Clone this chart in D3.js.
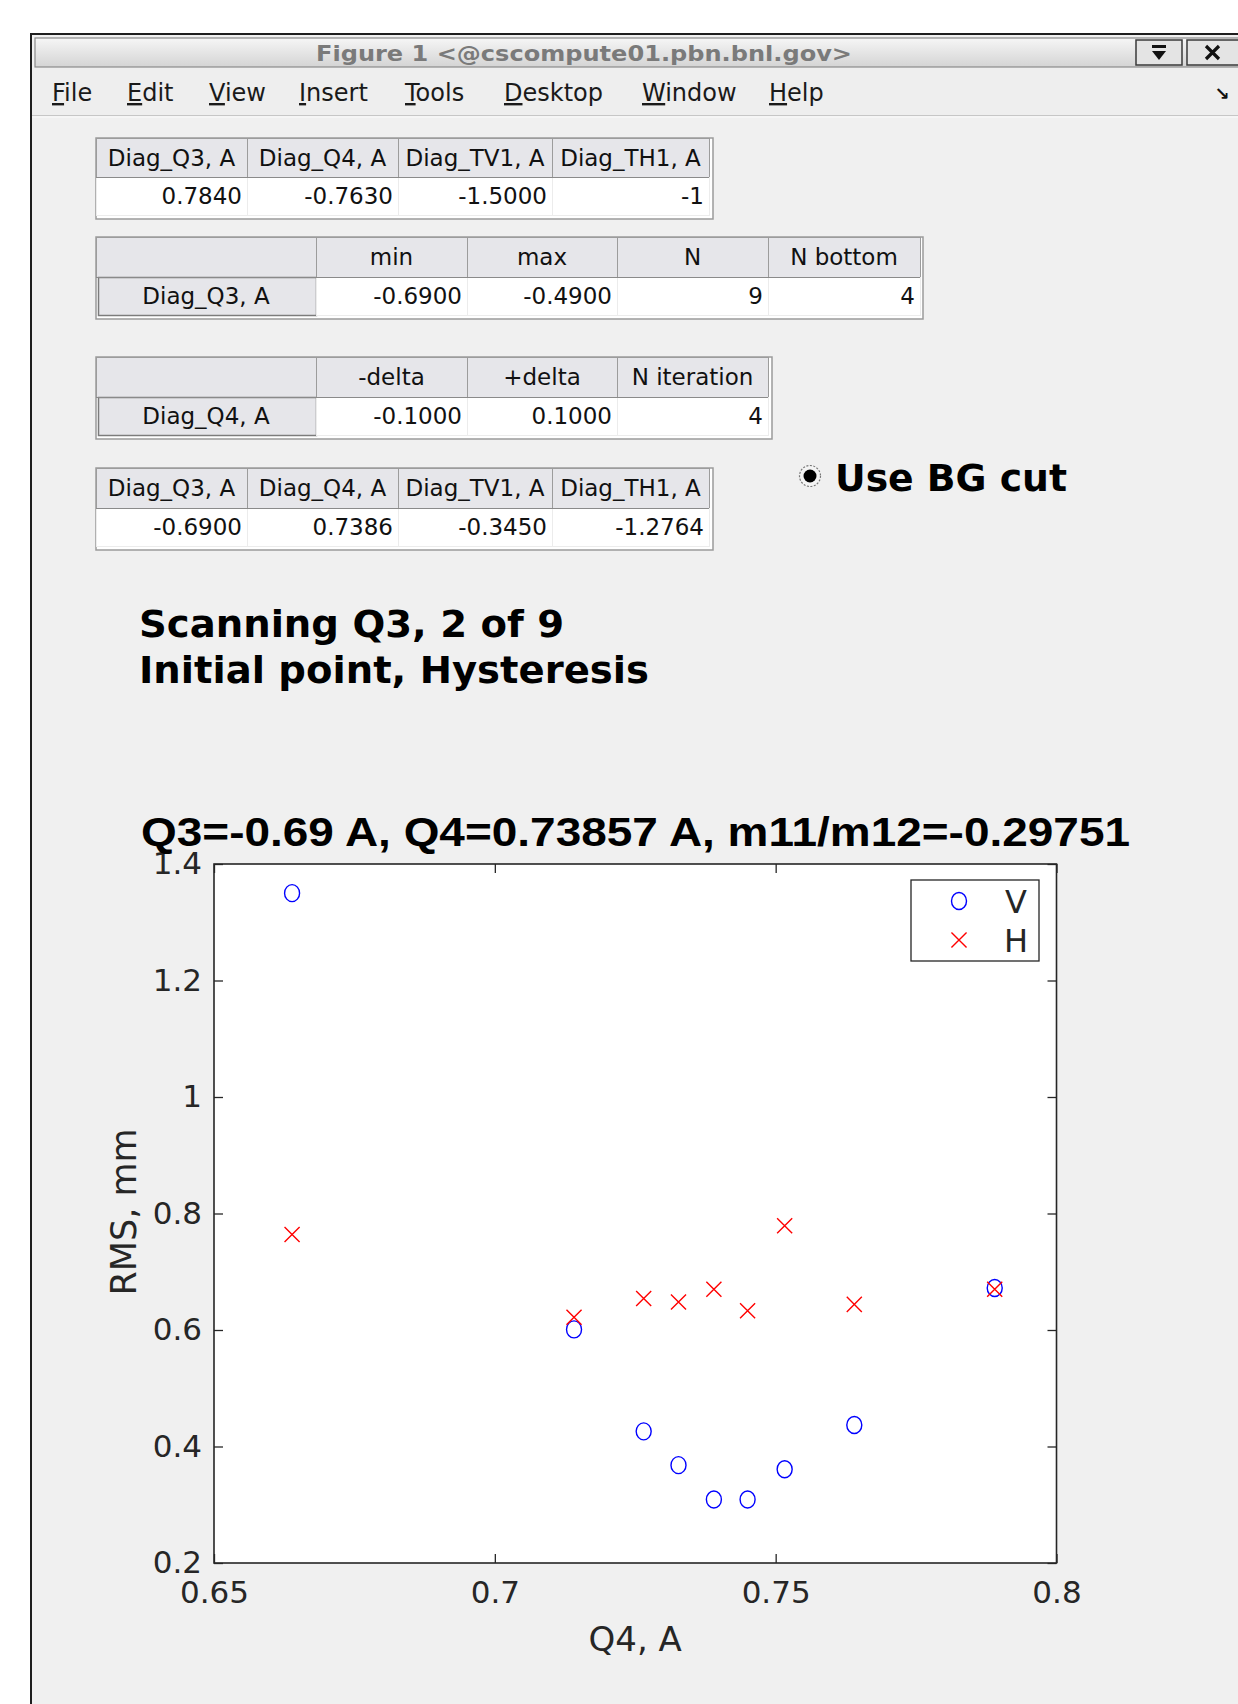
<!DOCTYPE html>
<html><head><meta charset="utf-8">
<script src="https://cdn.jsdelivr.net/npm/d3@7"></script>
<style>body{margin:0;background:#fff;} svg{display:block}</style>
</head><body><svg id="c" width="1238" height="1704"></svg>
<script>
// ---------- DATA ----------
const windowTitle = "Figure 1 <@cscompute01.pbn.bnl.gov>";
const menuItems = ["File","Edit","View","Insert","Tools","Desktop","Window","Help"];

const table1Headers = ["Diag_Q3, A","Diag_Q4, A","Diag_TV1, A","Diag_TH1, A"];
const table1Values  = ["0.7840","-0.7630","-1.5000","-1"];
const table2Headers = ["","min","max","N","N bottom"];
const table2Values  = ["Diag_Q3, A","-0.6900","-0.4900","9","4"];
const table3Headers = ["","-delta","+delta","N iteration"];
const table3Values  = ["Diag_Q4, A","-0.1000","0.1000","4"];
const table4Headers = ["Diag_Q3, A","Diag_Q4, A","Diag_TV1, A","Diag_TH1, A"];
const table4Values  = ["-0.6900","0.7386","-0.3450","-1.2764"];

const radioLabel = "Use BG cut";
const titleLines = ["Scanning Q3, 2 of 9","Initial point, Hysteresis"];
const chartTitle = "Q3=-0.69 A, Q4=0.73857 A, m11/m12=-0.29751";

const q4   = [0.6639, 0.7141, 0.7265, 0.7327, 0.7390, 0.7450, 0.7516, 0.7640, 0.7890];
const rmsV = [1.350, 0.601, 0.426, 0.368, 0.309, 0.309, 0.361, 0.437, 0.672];
const rmsH = [0.764, 0.622, 0.654, 0.648, 0.670, 0.633, 0.779, 0.644, 0.670];
const seriesNames = ["V","H"];
const xTicks = [0.65, 0.7, 0.75, 0.8];
const yTicks = [0.2, 0.4, 0.6, 0.8, 1, 1.2, 1.4];
const xLabel = "Q4, A";
const yLabel = "RMS, mm";

// ---------- DRAW ----------
const W = 1238, H = 1704;
const svg = d3.select("#c");
const defs = svg.append("defs");
const tb = defs.append("linearGradient").attr("id","tb").attr("x1",0).attr("y1",0).attr("x2",0).attr("y2",1);
tb.append("stop").attr("offset","0").attr("stop-color","#f6f6f6");
tb.append("stop").attr("offset","1").attr("stop-color","#d4d4d4");

// window body
svg.append("rect").attr("x",31).attr("y",34).attr("width",W).attr("height",H)
  .attr("fill","#f0f0f0").attr("stroke","#1e1e1e").attr("stroke-width",2);
// title bar
svg.append("rect").attr("x",35).attr("y",38).attr("width",W).attr("height",29)
  .attr("fill","url(#tb)").attr("stroke","#8a8a8a").attr("stroke-width",1.2);
svg.append("text").attr("x",584).attr("y",61).attr("text-anchor","middle")
  .attr("font-family","DejaVu Sans Condensed, DejaVu Sans").attr("font-weight","bold")
  .attr("font-size",22).attr("fill","#7a7a7a")
  .attr("textLength",536).attr("lengthAdjust","spacingAndGlyphs").text(windowTitle);
// title-bar buttons
svg.append("rect").attr("x",1136).attr("y",40).attr("width",46).attr("height",25)
  .attr("fill","#e4e4e4").attr("stroke","#3a3a3a").attr("stroke-width",1.5);
svg.append("rect").attr("x",1152).attr("y",45).attr("width",14).attr("height",3).attr("fill","#111");
svg.append("path").attr("d","M1152,51 L1166,51 L1159,60 Z").attr("fill","#111");
svg.append("rect").attr("x",1187).attr("y",40).attr("width",60).attr("height",25)
  .attr("fill","#e4e4e4").attr("stroke","#3a3a3a").attr("stroke-width",1.5);
svg.append("path").attr("d","M1206,46 L1219,59 M1219,46 L1206,59").attr("stroke","#111").attr("stroke-width",3.2);

// menu bar
svg.append("rect").attr("x",32).attr("y",68).attr("width",W).attr("height",47).attr("fill","#eeeeee");
svg.append("line").attr("x1",32).attr("x2",W).attr("y1",115.5).attr("y2",115.5).attr("stroke","#c6c6c6");
svg.append("line").attr("x1",32).attr("x2",W).attr("y1",117).attr("y2",117).attr("stroke","#fafafa");
const menuX = [52,127,209,299,405,504,642,769];
menuItems.forEach((m,i)=>{
  const t = svg.append("text").attr("x",menuX[i]).attr("y",101)
    .attr("font-family","DejaVu Sans").attr("font-size",24).attr("fill","#1a1a1a");
  t.append("tspan").attr("text-decoration","underline").text(m[0]);
  t.append("tspan").text(m.slice(1));
});
svg.append("text").attr("x",1222).attr("y",100).attr("text-anchor","middle")
  .attr("font-family","DejaVu Sans").attr("font-weight","bold").attr("font-size",18).attr("fill","#111").text("↘");

// tables
function drawTable(colEdges, yEdges, outer, headers, values, rowHeader){
  const g = svg.append("g").attr("font-family","DejaVu Sans").attr("font-size",23).attr("fill","#111");
  g.append("rect").attr("x",colEdges[0]).attr("y",yEdges[0])
    .attr("width",outer[0]-colEdges[0]).attr("height",outer[1]-yEdges[0])
    .attr("fill","#ffffff").attr("stroke","#9a9a9a").attr("stroke-width",1.5);
  for(let i=0;i<headers.length;i++){
    const x0 = colEdges[i], x1 = colEdges[i+1];
    g.append("rect").attr("x",x0+0.5).attr("y",yEdges[0]+0.5).attr("width",x1-x0).attr("height",yEdges[1]-yEdges[0])
      .attr("fill","#e6e6ea").attr("stroke","#9c9c9c");
    g.append("text").attr("x",(x0+x1)/2).attr("y",(yEdges[0]+yEdges[1])/2+8).attr("text-anchor","middle").text(headers[i]);
    const isRH = rowHeader && i===0;
    g.append("rect").attr("x",x0+0.5+(isRH?2:0)).attr("y",yEdges[1]+0.5).attr("width",x1-x0-(isRH?2:0)).attr("height",yEdges[2]-yEdges[1])
      .attr("fill",isRH?"#e6e6ea":"#ffffff").attr("stroke",isRH?"#7c7c7c":"#ececec").attr("stroke-width",isRH?1.5:1);
    const tx = isRH ? (x0+x1)/2 : x1-5;
    g.append("text").attr("x",tx).attr("y",(yEdges[1]+yEdges[2])/2+8)
      .attr("text-anchor",isRH?"middle":"end").text(values[i]);
  }
  // header bottom line
  g.append("line").attr("x1",colEdges[0]).attr("x2",colEdges[colEdges.length-1]).attr("y1",yEdges[1]+0.5).attr("y2",yEdges[1]+0.5)
    .attr("stroke","#8a8a8a").attr("stroke-width",1.2);
}
drawTable([96,247,398,552,709],[138,177,215],[713,219],table1Headers,table1Values,false);
drawTable([96,316,467,617,768,920],[237,277,315],[923,319],table2Headers,table2Values,true);
drawTable([96,316,467,617,768],[357,397,435],[772,439],table3Headers,table3Values,true);
drawTable([96,247,398,552,709],[468,508,546],[713,550],table4Headers,table4Values,false);

// radio button
svg.append("circle").attr("cx",810).attr("cy",476).attr("r",10.5).attr("fill","#f4f4f4").attr("stroke","#777").attr("stroke-width",1.2).attr("stroke-dasharray","2,1.5");
svg.append("circle").attr("cx",810).attr("cy",476).attr("r",6.5).attr("fill","#000");
svg.append("text").attr("x",835).attr("y",491).attr("font-family","DejaVu Sans").attr("font-weight","bold")
  .attr("font-size",38).attr("fill","#000").attr("textLength",232).attr("lengthAdjust","spacingAndGlyphs").text(radioLabel);

// title lines
const titleY = [637,683], titleW = [425,510];
titleLines.forEach((t,i)=>{
  svg.append("text").attr("x",139).attr("y",titleY[i]).attr("font-family","DejaVu Sans").attr("font-weight","bold")
    .attr("font-size",38).attr("fill","#000").attr("textLength",titleW[i]).attr("lengthAdjust","spacingAndGlyphs").text(t);
});

// chart
const L=214, R=1056.5, T=864, B=1563;
const x = d3.scaleLinear().domain([0.65,0.8]).range([L,R]);
const y = d3.scaleLinear().domain([0.2,1.4]).range([B,T]);
svg.append("rect").attr("x",L).attr("y",T).attr("width",R-L).attr("height",B-T).attr("fill","#fff");

const fmt = d => String(+d.toFixed(2));
const axFont = g => g.attr("font-family","DejaVu Sans").attr("font-size",31).call(s=>s.selectAll("text").attr("fill","#262626"))
  .call(s=>s.selectAll(".tick line").attr("stroke","#262626").attr("stroke-width",1.3)).call(s=>s.select(".domain").remove());

svg.append("g").attr("transform",`translate(0,${B})`)
  .call(d3.axisBottom(x).tickValues(xTicks).tickFormat(fmt).tickSizeInner(-9).tickSizeOuter(0).tickPadding(18)).call(axFont);
svg.append("g").attr("transform",`translate(0,${T})`)
  .call(d3.axisTop(x).tickValues(xTicks).tickFormat("").tickSizeInner(-9).tickSizeOuter(0)).call(axFont);
svg.append("g").attr("transform",`translate(${L},0)`)
  .call(d3.axisLeft(y).tickValues(yTicks).tickFormat(fmt).tickSizeInner(-9).tickSizeOuter(0).tickPadding(12)).call(axFont);
svg.append("g").attr("transform",`translate(${R},0)`)
  .call(d3.axisRight(y).tickValues(yTicks).tickFormat("").tickSizeInner(-9).tickSizeOuter(0)).call(axFont);

svg.append("rect").attr("x",L).attr("y",T).attr("width",R-L).attr("height",B-T)
  .attr("fill","none").attr("stroke","#262626").attr("stroke-width",1.6);

// points
const ptsV = d3.zip(q4, rmsV), ptsH = d3.zip(q4, rmsH);
svg.append("g").selectAll("ellipse").data(ptsV).join("ellipse")
  .attr("cx",d=>x(d[0])).attr("cy",d=>y(d[1])).attr("rx",7.5).attr("ry",8.5)
  .attr("fill","none").attr("stroke","#0000ff").attr("stroke-width",1.4);
const xSym = d3.symbol(d3.symbolX, 150);
svg.append("g").selectAll("path").data(ptsH).join("path")
  .attr("transform",d=>`translate(${x(d[0])},${y(d[1])})`).attr("d",xSym)
  .attr("fill","none").attr("stroke","#ff0000").attr("stroke-width",1.4);

// labels
svg.append("text").attr("x",141).attr("y",846).attr("font-family","Liberation Sans, DejaVu Sans").attr("font-weight","bold")
  .attr("font-size",40).attr("fill","#000").attr("textLength",989).attr("lengthAdjust","spacingAndGlyphs").text(chartTitle);
svg.append("text").attr("x",(L+R)/2).attr("y",1651).attr("text-anchor","middle")
  .attr("font-family","DejaVu Sans").attr("font-size",34).attr("fill","#262626").text(xLabel);
svg.append("text").attr("transform","translate(136,1212) rotate(-90)").attr("text-anchor","middle")
  .attr("font-family","DejaVu Sans").attr("font-size",35).attr("fill","#262626").text(yLabel);

// legend
const lg = svg.append("g");
lg.append("rect").attr("x",911).attr("y",880).attr("width",128).attr("height",81)
  .attr("fill","#fff").attr("stroke","#262626").attr("stroke-width",1.3);
const legY = d3.scalePoint().domain(seriesNames).range([901,940]);
lg.append("ellipse").attr("cx",959).attr("cy",legY("V")).attr("rx",7.5).attr("ry",8.5)
  .attr("fill","none").attr("stroke","#0000ff").attr("stroke-width",1.4);
lg.append("path").attr("transform",`translate(959,${legY("H")})`).attr("d",xSym)
  .attr("fill","none").attr("stroke","#ff0000").attr("stroke-width",1.4);
seriesNames.forEach(n=>{
  lg.append("text").attr("x",1016).attr("y",legY(n)+12).attr("text-anchor","middle")
    .attr("font-family","DejaVu Sans").attr("font-size",32).attr("fill","#262626").text(n);
});
</script></body></html>
